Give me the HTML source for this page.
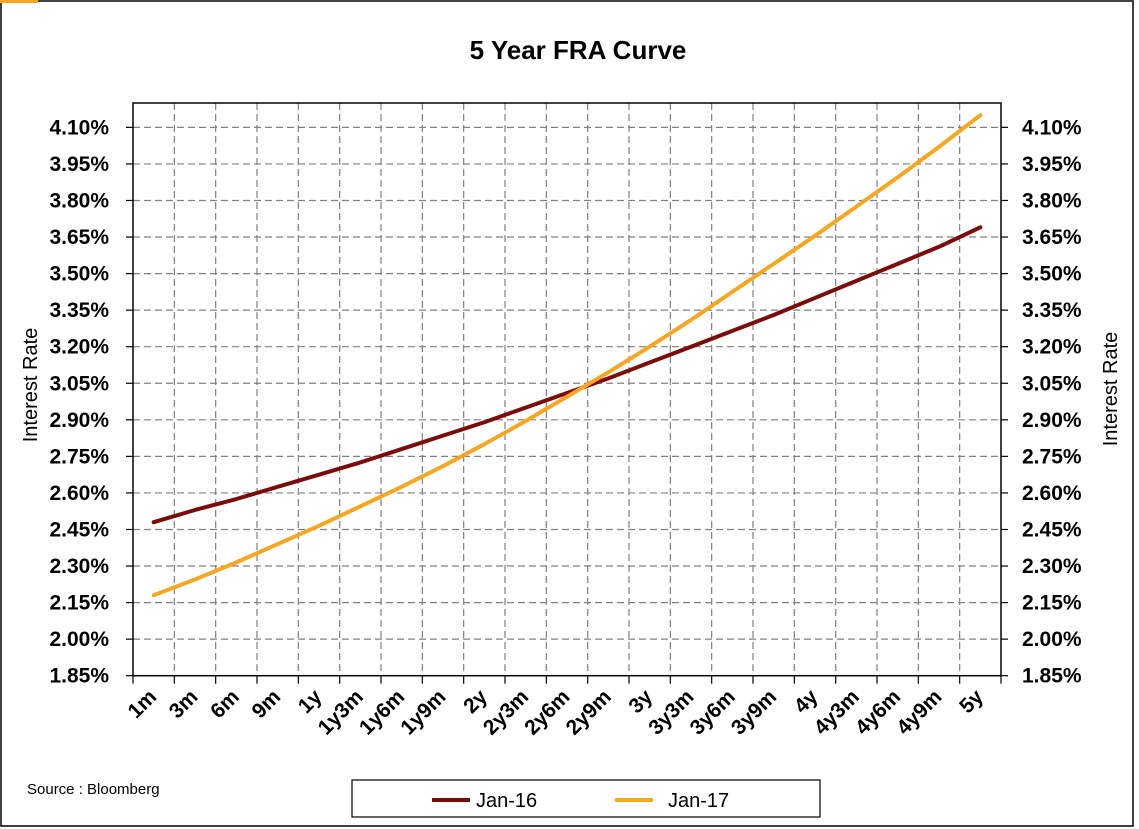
<!DOCTYPE html>
<html><head><meta charset="utf-8"><style>
body{margin:0;background:#fff;}
svg{display:block;font-family:"Liberation Sans",Arial,sans-serif;}
</style></head><body>
<svg id="chart" width="1139" height="829" viewBox="0 0 1139 829" xmlns="http://www.w3.org/2000/svg">
<rect x="1" y="1" width="1132" height="825" fill="#fff" stroke="#000" stroke-width="1.5"/>
<rect x="0" y="0" width="38" height="3" fill="#f5a623"/>
<text x="578" y="59" text-anchor="middle" font-size="26" font-weight="bold">5 Year FRA Curve</text>
<text transform="translate(37,385) rotate(-90)" text-anchor="middle" font-size="20">Interest Rate</text>
<text transform="translate(1117,389) rotate(-90)" text-anchor="middle" font-size="20">Interest Rate</text>
<g id="grid"></g><g id="axes"></g><g id="series"></g>
<text x="27" y="794" font-size="15">Source : Bloomberg</text>
<g>
<rect x="352" y="780" width="468" height="37" fill="#fff" stroke="#000" stroke-width="1.2"/>
<line x1="432" y1="800" x2="470" y2="800" stroke="#7b0c0c" stroke-width="4"/>
<text x="476" y="807" font-size="20">Jan-16</text>
<line x1="615" y1="800" x2="653" y2="800" stroke="#f5a623" stroke-width="4"/>
<text x="668" y="807" font-size="20">Jan-17</text>
</g>
</svg>
<script>
const categories=["1m","3m","6m","9m","1y","1y3m","1y6m","1y9m","2y","2y3m","2y6m","2y9m","3y","3y3m","3y6m","3y9m","4y","4y3m","4y6m","4y9m","5y"];
const jan16=[2.48,2.53,2.575,2.625,2.675,2.725,2.78,2.835,2.89,2.95,3.01,3.07,3.135,3.20,3.265,3.33,3.40,3.47,3.54,3.61,3.69];
const jan17=[2.18,2.245,2.315,2.39,2.465,2.545,2.625,2.71,2.80,2.895,2.995,3.095,3.20,3.31,3.425,3.54,3.655,3.775,3.895,4.02,4.15];
const yTicks=[1.85,2.00,2.15,2.30,2.45,2.60,2.75,2.90,3.05,3.20,3.35,3.50,3.65,3.80,3.95,4.10];
const yMin=1.85,yMax=4.2;
const L=133,R=1001,T=103,B=675.7;
const NS="http://www.w3.org/2000/svg";
const step=(R-L)/categories.length;
function xPos(i){return L+step*(i+0.5);}
function yPos(v){return B-(v-yMin)/(yMax-yMin)*(B-T);}
function mk(tag,attrs,parent){const e=document.createElementNS(NS,tag);for(const k in attrs)e.setAttribute(k,attrs[k]);parent.appendChild(e);return e;}
const grid=document.getElementById('grid'),axes=document.getElementById('axes'),series=document.getElementById('series');
yTicks.forEach((v,i)=>{const y=yPos(v);
 if(i>0){const g=mk('line',{x1:L,x2:R,y1:y,y2:y,stroke:'#808080','stroke-width':1.2,'stroke-dasharray':'7,4'},grid);
 
 }
 mk('line',{x1:L-7,x2:L,y1:y,y2:y,stroke:'#000','stroke-width':1.2},axes);
 mk('line',{x1:R,x2:R+7,y1:y,y2:y,stroke:'#000','stroke-width':1.2},axes);
 const t1=mk('text',{x:109,y:y+7,'text-anchor':'end','font-size':21,'font-weight':'bold'},axes);t1.textContent=v.toFixed(2)+'%';
 
 
 const t2=mk('text',{x:1022,y:y+7,'text-anchor':'start','font-size':21,'font-weight':'bold'},axes);t2.textContent=v.toFixed(2)+'%';
 
 
});
for(let i=0;i<=categories.length;i++){const x=L+step*i;
 if(i>0&&i<categories.length){const g=mk('line',{x1:x,x2:x,y1:T,y2:B,stroke:'#808080','stroke-width':1.2,'stroke-dasharray':'7,4'},grid);
 
 }
 mk('line',{x1:x,x2:x,y1:B,y2:B+8,stroke:'#000','stroke-width':1.2},axes);
}
categories.forEach((c,i)=>{const x=xPos(i)+4,y=698;
 const t=mk('text',{transform:`translate(${x},${y}) rotate(-45)`,'text-anchor':'end','font-size':21,'font-weight':'bold'},axes);t.textContent=c;
 
 
});
const frame=mk('rect',{x:L,y:T,width:R-L,height:B-T,fill:'none',stroke:'#000','stroke-width':1.5},axes);


function line(data,color,name){const p=mk('polyline',{points:data.map((v,i)=>xPos(i)+','+yPos(v)).join(' '),fill:'none',stroke:color,'stroke-width':4,'stroke-linecap':'round','stroke-linejoin':'round'},series);
 
 }
line(jan16,'#7b0c0c','series-jan16');
line(jan17,'#f5a623','series-jan17');
</script>
</body></html>
